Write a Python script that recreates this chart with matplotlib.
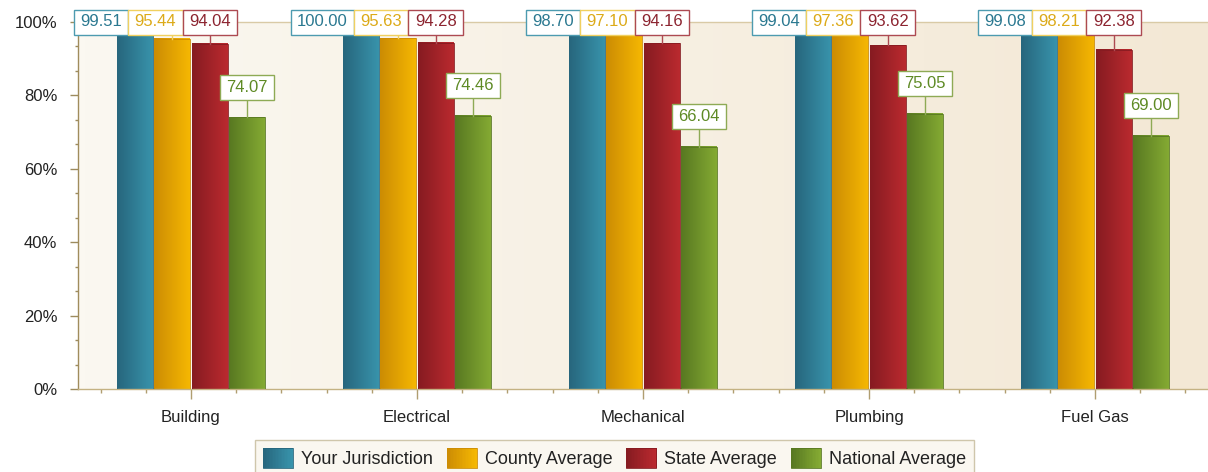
import numpy as np
import matplotlib
matplotlib.use("Agg")
import matplotlib.pyplot as plt
from matplotlib.colors import LinearSegmentedColormap
from matplotlib.patches import Rectangle
from matplotlib.path import Path
from matplotlib.legend_handler import HandlerBase
from matplotlib.ticker import MultipleLocator, FixedLocator, FuncFormatter

categories = ["Building", "Electrical", "Mechanical", "Plumbing", "Fuel Gas"]
series_names = ["Your Jurisdiction", "County Average", "State Average", "National Average"]
your_jurisdiction = [99.51, 100.00, 98.70, 99.04, 99.08]
county_average = [95.44, 95.63, 97.10, 97.36, 98.21]
state_average = [94.04, 94.28, 94.16, 93.62, 92.38]
national_average = [74.07, 74.46, 66.04, 75.05, 69.00]
y_ticks = [0, 20, 40, 60, 80, 100]

series_values = [your_jurisdiction, county_average, state_average, national_average]

# gradient endpoints (dark left edge, light right edge), label text and border colours
bar_dark = ["#27667d", "#cc8c04", "#861b21", "#587821"]
bar_light = ["#3893ab", "#f5b702", "#ba2a2f", "#84aa33"]
label_text = ["#2a7890", "#dcaa18", "#8c2430", "#5e8a24"]
label_edge = ["#4d9bb0", "#f0d060", "#ad4a52", "#8eaa55"]

plt.rcParams["font.family"] = ["Liberation Sans", "DejaVu Sans"]
plt.rcParams["font.size"] = 12
plt.rcParams["image.composite_image"] = False

W, H = 1208, 472
fig = plt.figure(figsize=(W / 100, H / 100), dpi=100)
ax = fig.add_axes([78 / W, 83 / H, 1130 / W, 367 / H])

# plot area background: soft cream gradient
bg = LinearSegmentedColormap.from_list("bg", ["#fbf8f1", "#f3e8d5"])
ax.imshow(np.linspace(0, 1, 256).reshape(1, -1), cmap=bg, aspect="auto",
          extent=(0, 1, 0, 1), transform=ax.transAxes, zorder=0, interpolation="bilinear")

n_cat = len(categories)
x = np.arange(n_cat)
step = 0.1655
bar_w = 0.158
grad = np.linspace(0, 1, 64).reshape(1, -1)

bar_centers = []
for s, vals in enumerate(series_values):
    xs = x + (s - 1.5) * step
    bar_centers.append(xs)
    cmap = LinearSegmentedColormap.from_list(f"g{s}", [bar_dark[s], bar_light[s]])
    bars = ax.bar(xs, vals, width=bar_w, facecolor="none", edgecolor=bar_dark[s],
                  linewidth=0.6, zorder=3)
    for r in bars:
        x0, y0 = r.get_x(), r.get_y()
        ax.imshow(grad, cmap=cmap, aspect="auto", interpolation="bilinear",
                  extent=(x0, x0 + r.get_width(), y0, y0 + r.get_height()), zorder=2)

ax.set_xlim(-0.5, n_cat - 0.5)
ax.set_ylim(0, 100)

# axes styling
ax.spines["right"].set_visible(False)
ax.spines["left"].set_color("#a08c5c")
ax.spines["bottom"].set_color("#c4b283")
ax.spines["top"].set_color("#d9caa6")
for sp in ax.spines.values():
    sp.set_linewidth(1.0)

ax.set_yticks(y_ticks)
ax.yaxis.set_major_formatter(FuncFormatter(lambda v, p: f"{int(v)}%"))
ax.yaxis.set_minor_locator(MultipleLocator(20 / 3))
ax.set_xticks(x)
ax.set_xticklabels(categories)
ax.xaxis.set_minor_locator(FixedLocator([c + d for c in x for d in (-0.4, -0.2, 0.2, 0.4)]))
ax.tick_params(axis="y", which="major", length=6, width=1, color="#9d8b5e", pad=9,
               labelcolor="#222222", labelsize=12)
ax.tick_params(axis="y", which="minor", length=2.5, width=1, color="#9d8b5e")
ax.tick_params(axis="x", which="major", length=7, width=1, color="#b09e70", pad=8,
               labelcolor="#222222", labelsize=12)
ax.tick_params(axis="x", which="minor", length=3, width=1, color="#b09e70")


def label_box(x0, y0, width, height, mutation_size):
    """Square box with wider horizontal than vertical padding."""
    px, py = 0.38 * mutation_size, 0.30 * mutation_size
    x0, y0 = x0 - px, y0 - py
    x1, y1 = x0 + width + 2 * px, y0 + height + 2 * py
    return Path([(x0, y0), (x1, y0), (x1, y1), (x0, y1), (x0, y0)],
                [Path.MOVETO, Path.LINETO, Path.LINETO, Path.LINETO, Path.CLOSEPOLY])


# value labels with connector lines
labels = []
for s, vals in enumerate(series_values):
    row = []
    for i, v in enumerate(vals):
        ly = min(v + 8.2, 100)
        bx = bar_centers[s][i]
        ax.plot([bx, bx], [v, ly], color=label_edge[s], linewidth=1.0, zorder=4,
                clip_on=False)
        t = ax.text(bx, ly, f"{v:.2f}", ha="center", va="center", color=label_text[s],
                    fontsize=12, zorder=6, clip_on=False,
                    bbox=dict(boxstyle=label_box, facecolor="white",
                              edgecolor=label_edge[s], linewidth=1.0))
        row.append(t)
    labels.append(row)

# push overlapping labels to the left of their right-hand neighbour
fig.canvas.draw()
renderer = fig.canvas.get_renderer()
px_per_unit = ax.transData.transform((1, 0))[0] - ax.transData.transform((0, 0))[0]
for i in range(n_cat):
    boxes = [labels[s][i].get_bbox_patch().get_window_extent(renderer) for s in range(4)]
    lefts = [b.x0 for b in boxes]
    rights = [b.x1 for b in boxes]
    for s in range(2, -1, -1):
        nb = boxes[s + 1]
        b = boxes[s]
        v_overlap = not (b.y1 <= nb.y0 or nb.y1 <= b.y0)
        if v_overlap and rights[s] > lefts[s + 1]:
            shift = rights[s] - lefts[s + 1]
            rights[s] -= shift
            lefts[s] -= shift
            tx, ty = labels[s][i].get_position()
            labels[s][i].set_position((tx - shift / px_per_unit, ty))


class GradientSwatch:
    def __init__(self, dark, light):
        self.dark, self.light = dark, light


class GradientHandler(HandlerBase):
    def create_artists(self, legend, orig_handle, xdescent, ydescent, width, height,
                       fontsize, trans):
        cmap = LinearSegmentedColormap.from_list("sw", [orig_handle.dark, orig_handle.light])
        n = 20
        arts = []
        for k in range(n):
            arts.append(Rectangle((-xdescent + width * k / n, -ydescent), width / n + 0.3,
                                  height, facecolor=cmap(k / (n - 1)), edgecolor="none",
                                  transform=trans))
        arts.append(Rectangle((-xdescent, -ydescent), width, height, facecolor="none",
                              edgecolor=orig_handle.dark, linewidth=0.6, transform=trans))
        return arts


handles = [GradientSwatch(bar_dark[s], bar_light[s]) for s in range(4)]
leg = fig.legend(handles, series_names, handler_map={GradientSwatch: GradientHandler()},
                 loc="upper center", bbox_to_anchor=(614.5 / W, 1 - 440 / H), ncol=4,
                 frameon=True, fancybox=False, edgecolor="#cfc6ab", facecolor="#faf7f0",
                 framealpha=1, handlelength=1.65, handleheight=1.3, handletextpad=0.45,
                 columnspacing=0.78, borderpad=0.45, borderaxespad=0, fontsize=13)
leg.get_frame().set_linewidth(1.0)
for t in leg.get_texts():
    t.set_color("#222222")

fig.savefig("out.png", dpi=100, facecolor="white")
